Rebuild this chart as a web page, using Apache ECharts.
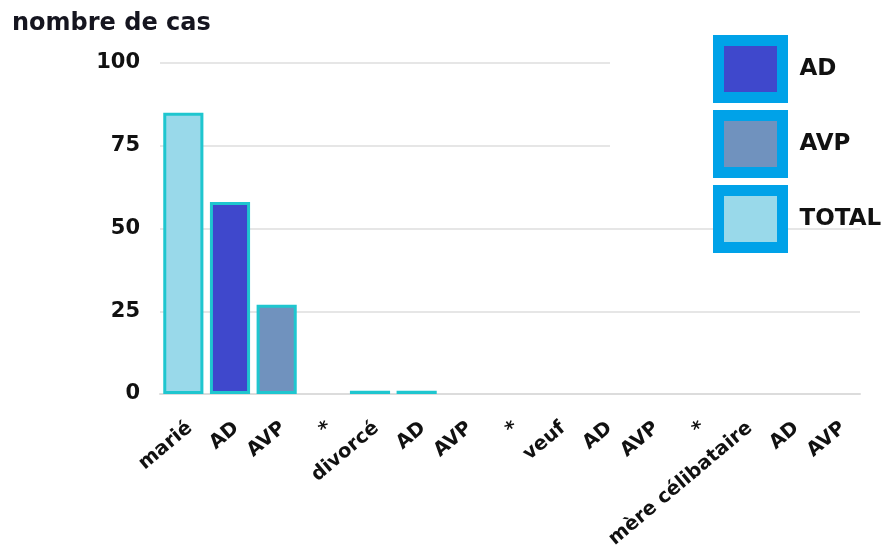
<!DOCTYPE html>
<html>
<head>
<meta charset="utf-8">
<script src="https://cdn.jsdelivr.net/npm/echarts@6/dist/echarts.min.js"></script>
<style>
  html, body { margin: 0; padding: 0; background: #fff; }
  #chart { width: 892px; height: 549px; }
</style>
</head>
<body>
<div id="chart"></div>
<script>
// Category labels along the x axis (groups separated by "*")
const categories = ['marié', 'AD', 'AVP', '*', 'divorcé', 'AD', 'AVP', '*', 'veuf', 'AD', 'AVP', '*', 'mère célibataire', 'AD', 'AVP'];

// Number of cases per category, split by series (null = no bar in that slot)
const totalValues = [85, null, null, null, 1, null, null, null, 0, null, null, null, 0, null, null];
const adValues    = [null, 58, null, null, null, 1, null, null, null, 0, null, null, null, 0, null];
const avpValues   = [null, null, 27, null, null, null, 0, null, null, null, 0, null, null, null, 0];

const yTicks = [0, 25, 50, 75, 100];

const colors = { AD: '#3f48cc', AVP: '#7092be', TOTAL: '#99d9ea' };
const barBorder = '#1fc6cf';
const legendFrame = '#00a2e8';

// Empty / zero slots are left blank so no outline is stroked on the baseline
const toBars = arr => arr.map(v => (v === null || v === 0) ? '-' : v);

const chart = echarts.init(document.getElementById('chart'), null, { renderer: 'canvas' });

const FONT = 'DejaVu Sans, Verdana, sans-serif';

function barSeries(name, values) {
  return {
    name: name,
    type: 'bar',
    data: toBars(values),
    barWidth: '86%',
    barGap: '-100%',
    itemStyle: { color: colors[name], borderColor: barBorder, borderWidth: 3 }
  };
}

chart.setOption({
  animation: false,
  title: {
    text: 'nombre de cas',
    left: 7,
    top: 7,
    textStyle: { fontFamily: FONT, fontWeight: 'bold', fontSize: 24, color: '#15151f' }
  },
  grid: { left: 160, right: 32, top: 63, bottom: 155, containLabel: false, outerBoundsMode: 'none' },
  legend: {
    orient: 'vertical',
    left: 708,
    top: 30,
    icon: 'rect',
    itemWidth: 64,
    itemHeight: 57,
    itemGap: 7,
    data: [
      { name: 'AD',    itemStyle: { color: colors.AD,    borderColor: legendFrame, borderWidth: 11 } },
      { name: 'AVP',   itemStyle: { color: colors.AVP,   borderColor: legendFrame, borderWidth: 11 } },
      { name: 'TOTAL', itemStyle: { color: colors.TOTAL, borderColor: legendFrame, borderWidth: 11 } }
    ],
    textStyle: { fontFamily: FONT, fontWeight: 'bold', fontSize: 23, color: '#111', padding: [0, 0, 0, 12] }
  },
  graphic: [{
    type: 'rect',
    z: 1,
    shape: { x: 610, y: 28, width: 282, height: 182 },
    style: { fill: '#fff' }
  }],
  xAxis: {
    type: 'category',
    data: categories,
    axisLine: { show: true, lineStyle: { color: '#dcdcdc', width: 2 } },
    axisTick: { show: false },
    axisLabel: {
      rotate: 40, interval: 0, margin: 24, verticalAlign: 'top',
      fontFamily: FONT, fontWeight: 'bold', fontSize: 19.5, color: '#111'
    }
  },
  yAxis: {
    type: 'value',
    min: yTicks[0],
    max: yTicks[yTicks.length - 1],
    interval: 25,
    axisLine: { show: false },
    axisTick: { show: false },
    splitLine: { lineStyle: { color: '#e6e6e6', width: 2 } },
    axisLabel: { margin: 20, fontFamily: FONT, fontWeight: 'bold', fontSize: 21, color: '#111' }
  },
  series: [
    barSeries('AD', adValues),
    barSeries('AVP', avpValues),
    barSeries('TOTAL', totalValues)
  ]
});
</script>
</body>
</html>
